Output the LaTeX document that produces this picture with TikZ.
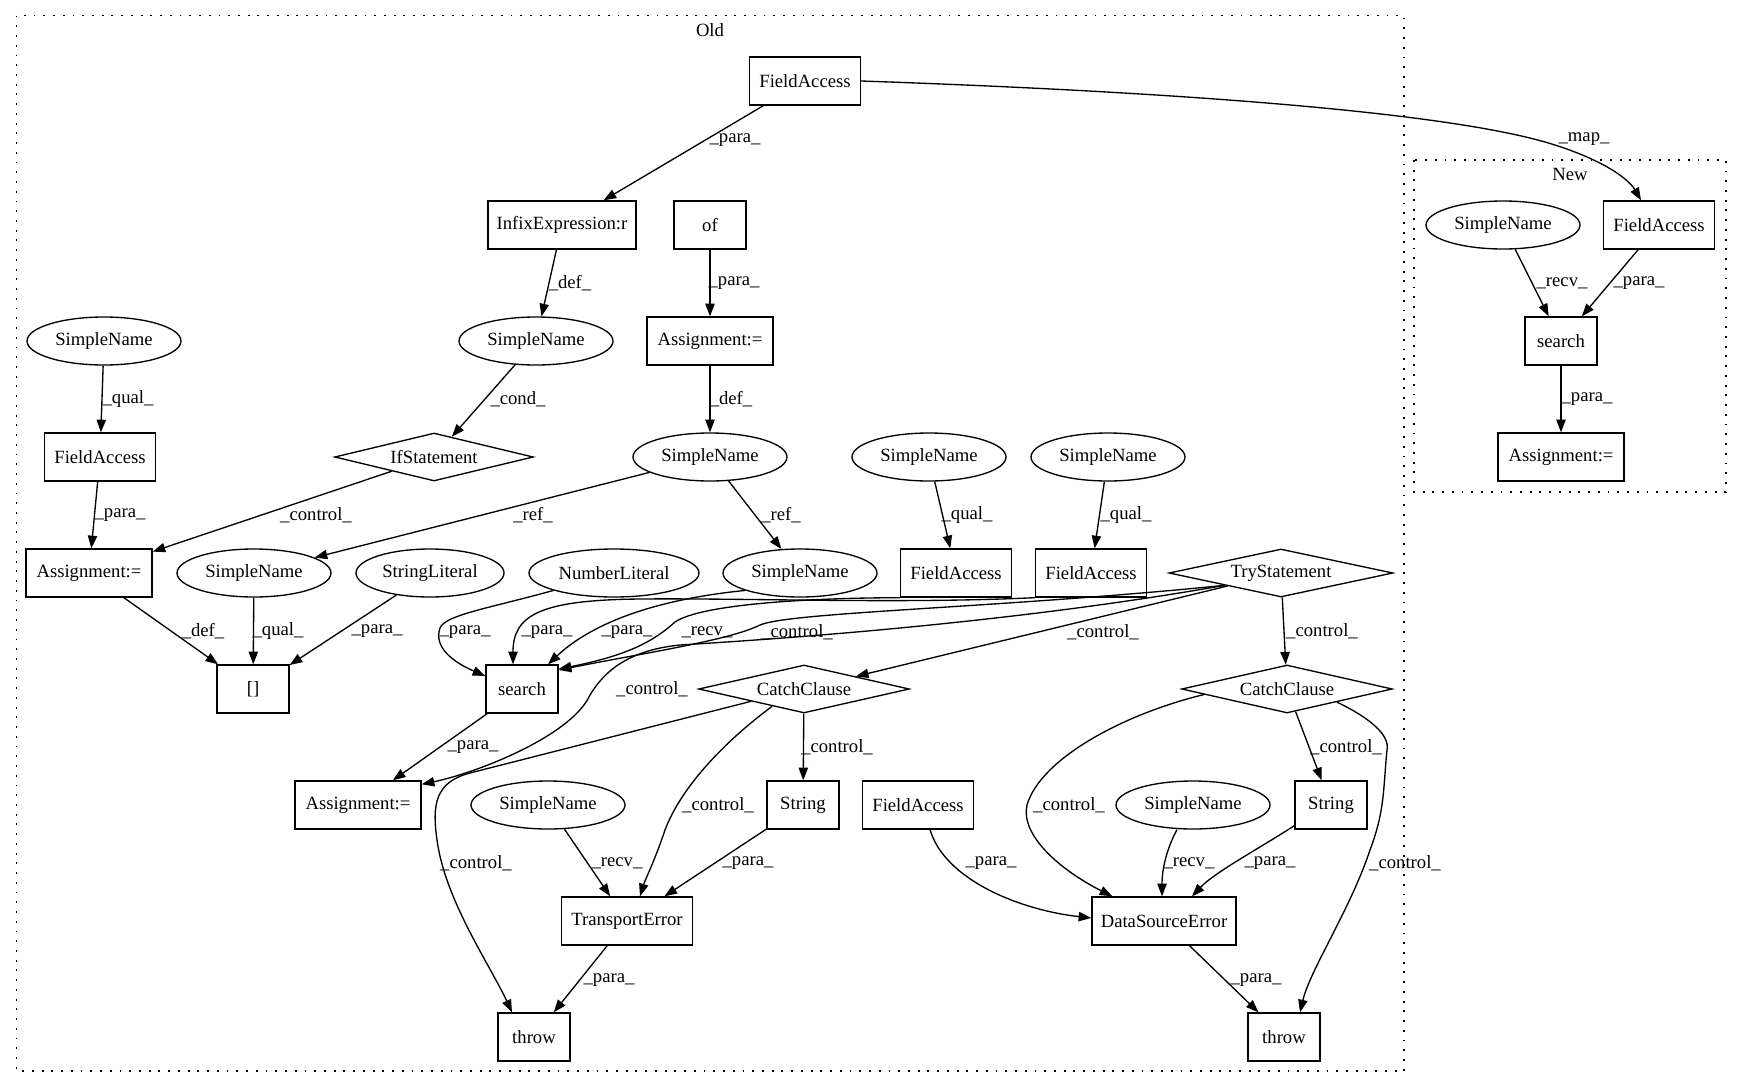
\documentclass[tikz,border=0pt]{standalone}
\usepackage{fontspec}
\setmainfont{Liberation Serif}
\usetikzlibrary{shapes.geometric,arrows.meta,calc}
\begin{document}
\begin{tikzpicture}[x=0.75pt,y=-0.75pt,
  every node/.style={font=\fontsize{14}{16}\selectfont, inner sep=0pt},
  rbox/.style={draw, line width=1pt, rectangle, minimum height=36pt, minimum width=54pt},
  ellnode/.style={draw, line width=1pt, ellipse, minimum height=36pt, minimum width=115.5pt},
  dnode/.style={draw, line width=1pt, diamond, aspect=4, minimum height=36pt},
  conn/.style={draw, line width=1pt, -{Triangle[length=9.5pt,width=7pt]}},
  clus/.style={draw, line width=1pt, dash pattern=on 1.4pt off 5.9pt}
]
\useasboundingbox (0,0) rectangle (1741,1088);

% clusters
\draw[clus] (16.7,15.6) rectangle (1404,1071);
\node (OldLbl) at (710,30.5) {Old};
\draw[clus] (1414,160) rectangle (1726,492);
\node (NewLbl) at (1570,174) {New};

% nodes
\node[rbox, minimum width=83.25pt] (FAtop) at (805,81) {FieldAccess};
\node[rbox, minimum width=111pt] (Infix) at (562,225) {InfixExpression:r};
\node[rbox] (Of) at (710,225) {of};
\node[ellnode] (SNmid) at (536,341) {SimpleName};
\node[rbox, minimum width=94.5pt] (AsgOf) at (710,341) {Assignment:=};
\node[ellnode] (SNleft) at (104,341) {SimpleName};
\node[rbox, minimum width=83.25pt] (FAleft) at (100,457) {FieldAccess};
\node[dnode, minimum width=149pt] (If) at (434,457) {IfStatement};
\node[ellnode] (SNdef) at (710,457) {SimpleName};
\node[ellnode] (SNqa) at (929,457) {SimpleName};
\node[ellnode] (SNqb) at (1108,457) {SimpleName};
\node[ellnode] (SNnew) at (1503,225) {SimpleName};
\node[rbox, minimum width=83.25pt] (FAnew) at (1659,225) {FieldAccess};
\node[rbox] (Snew) at (1561,341) {search};
\node[rbox, minimum width=94.5pt] (AsgNew) at (1561,457) {Assignment:=};
\node[rbox, minimum width=94.5pt] (AsgLeft) at (89,573) {Assignment:=};
\node[ellnode] (SNra) at (254,573) {SimpleName};
\node[ellnode, minimum width=111pt] (StrLit) at (430,573) {StringLiteral};
\node[ellnode, minimum width=127.5pt] (NumLit) at (614,573) {NumberLiteral};
\node[ellnode] (SNrb) at (800,573) {SimpleName};
\node[rbox, minimum width=83.25pt] (FAa) at (956,573) {FieldAccess};
\node[rbox, minimum width=83.25pt] (FAb) at (1091,573) {FieldAccess};
\node[dnode, minimum width=168pt] (Try) at (1281,573) {TryStatement};
\node[rbox] (Idx) at (253,689) {[]};
\node[rbox] (Search) at (522,689) {search};
\node[dnode, minimum width=158pt] (CatchA) at (804,689) {CatchClause};
\node[dnode, minimum width=158pt] (CatchB) at (1287,689) {CatchClause};
\node[rbox, minimum width=94.5pt] (AsgMid) at (358,805) {Assignment:=};
\node[ellnode] (SNrecvA) at (548,805) {SimpleName};
\node[rbox] (StrA) at (803,805) {String};
\node[rbox, minimum width=83.25pt] (FAbot) at (918,805) {FieldAccess};
\node[ellnode] (SNrecvB) at (1193,805) {SimpleName};
\node[rbox] (StrB) at (1331,805) {String};
\node[rbox, minimum width=98pt] (TE) at (627,921) {TransportError};
\node[rbox, minimum width=108pt] (DSE) at (1164,921) {DataSourceError};
\node[rbox] (ThrowA) at (534,1037) {throw};
\node[rbox] (ThrowB) at (1284,1037) {throw};

% straight connectors
\draw[conn] (FAtop) -- (Infix);
\draw[conn] (Infix) -- (SNmid);
\draw[conn] (Of) -- (AsgOf);
\draw[conn] (SNmid) -- (If);
\draw[conn] (AsgOf) -- (SNdef);
\draw[conn] (SNleft) -- (FAleft);
\draw[conn] (FAleft) -- (AsgLeft);
\draw[conn] (If) -- (AsgLeft);
\draw[conn] (SNdef) -- (SNra);
\draw[conn] (SNdef) -- (SNrb);
\draw[conn] (SNnew) -- (Snew);
\draw[conn] (FAnew) -- (Snew);
\draw[conn] (Snew) -- (AsgNew);
\draw[conn] (SNqa) -- (FAa);
\draw[conn] (SNqb) -- (FAb);
\draw[conn] (AsgLeft) -- (Idx);
\draw[conn] (SNra) -- (Idx);
\draw[conn] (StrLit) -- (Idx);
\draw[conn] (Try) -- (CatchA);
\draw[conn] (Try) -- (CatchB);
\draw[conn] (Search) -- (AsgMid);
\draw[conn] (CatchA) -- (StrA);
\draw[conn] (CatchB) -- (StrB);
\draw[conn] (SNrecvA) -- (TE);
\draw[conn] (StrA) -- (TE);
\draw[conn] (TE) -- (ThrowA);
\draw[conn] (DSE) -- (ThrowB);

% curved connectors
\draw[conn] (FAtop.east) .. controls (1180,92) and (1440,112) .. (1545,142)
  .. controls (1600,158) and (1628,178) .. ($(FAnew.north)+(-18,0)$);
\draw[conn] (NumLit.south west) .. controls (490,608) and (445,615) .. (440,628)
  .. controls (433,648) and (455,663) .. ($(Search.west)+(0,-13)$);
\draw[conn] (FAb.south west) .. controls (900,604) and (750,598) .. (640,599)
  .. controls (540,600) and (513,615) .. ($(Search.north)+(-9,0)$);
\draw[conn] (SNrb.south west) .. controls (650,600) and (590,625) .. ($(Search.north)+(26,0)$);
\draw[conn] (FAa.south west) .. controls (800,598) and (700,605) .. (675,622)
  .. controls (655,640) and (630,655) .. ($(Search.east)+(0,-20)$);
\draw[conn] ($(Try.west)!0.5!(Try.south)$) .. controls (1000,608) and (790,612) .. (760,625)
  .. controls (730,640) and (650,652) .. ($(Search.east)+(0,-19)$);
\draw[conn] ($(Try.west)!0.5!(Try.south)$) .. controls (1000,625) and (760,640) .. (680,645)
  .. controls (630,650) and (605,670) .. (590,695)
  .. controls (572,735) and (480,772) .. ($(AsgMid.north east)+(0,4)$);
\draw[conn] ($(CatchA.west)!0.5!(CatchA.south)$) -- (470,773)
  .. controls (435,782) and (432,805) .. (437,840)
  .. controls (445,900) and (490,965) .. ($(ThrowA.north)+(-22,0)$);
\draw[conn] ($(CatchA.west)!0.7!(CatchA.south)$) .. controls (720,745) and (680,790) .. (665,830)
  .. controls (655,860) and (645,880) .. ($(TE.north)+(13,0)$);
\draw[conn] ($(CatchB.west)!0.22!(CatchB.south)$) .. controls (1120,715) and (1040,760) .. (1027,805)
  .. controls (1020,835) and (1060,870) .. ($(DSE.north west)+(21,0)$);
\draw[conn] ($(CatchB.south)!0.47!(CatchB.east)$) .. controls (1370,718) and (1390,735) .. (1387,750)
  .. controls (1383,790) and (1385,810) .. (1370,850)
  .. controls (1350,910) and (1310,970) .. ($(ThrowB.north)+(16,0)$);
\draw[conn] ($(FAbot.south)+(12,0)$) .. controls (945,880) and (1020,910) .. ($(DSE.west)+(0,-3)$);
\draw[conn] ($(SNrecvB.south)+(-16,0)$) .. controls (1166,850) and (1162,870) .. ($(DSE.north)+(-2,0)$);
\draw[conn] ($(StrB.south west)+(0,-4)$) .. controls (1260,848) and (1215,872) .. ($(DSE.north)+(28,0)$);

% labels
\node (l1) at (735,140) {\_para\_};
\node (l2) at (1584,139) {\_map\_};
\node (l3) at (570,283) {\_def\_};
\node (l4) at (734,283) {\_para\_};
\node (l5) at (518,399) {\_cond\_};
\node (l6) at (731,399) {\_def\_};
\node (l7) at (128,399) {\_qual\_};
\node (l8) at (120,515) {\_para\_};
\node (l9) at (316,515) {\_control\_};
\node (l10) at (533,515) {\_ref\_};
\node (l11) at (781,515) {\_ref\_};
\node (l12) at (1562,283) {\_recv\_};
\node (l13) at (1639,283) {\_para\_};
\node (l14) at (1587,399) {\_para\_};
\node (l15) at (967,515) {\_qual\_};
\node (l16) at (1126,515) {\_qual\_};
\node (l17) at (203,631) {\_def\_};
\node (l18) at (278,631) {\_qual\_};
\node (l19) at (377,631) {\_para\_};
\node (l20) at (465,632) {\_para\_};
\node (l21) at (547,632) {\_para\_};
\node (l22) at (627,632) {\_para\_};
\node (l23) at (707,632) {\_recv\_};
\node (l24) at (797,632) {\_control\_};
\node (l25) at (1103,632) {\_control\_};
\node (l26) at (1322,631) {\_control\_};
\node (l27) at (652,689) {\_control\_};
\node (l28) at (473,747) {\_para\_};
\node (l29) at (837,747) {\_control\_};
\node (l30) at (1346,747) {\_control\_};
\node (l31) at (718,805) {\_control\_};
\node (l32) at (1069,805) {\_control\_};
\node (l33) at (476,863) {\_control\_};
\node (l34) at (617,863) {\_recv\_};
\node (l35) at (748,863) {\_para\_};
\node (l36) at (991,863) {\_para\_};
\node (l37) at (1189,863) {\_recv\_};
\node (l38) at (1270,863) {\_para\_};
\node (l39) at (1405,863) {\_control\_};
\node (l40) at (609,980) {\_para\_};
\node (l41) at (1256,980) {\_para\_};
\end{tikzpicture}
\end{document}
